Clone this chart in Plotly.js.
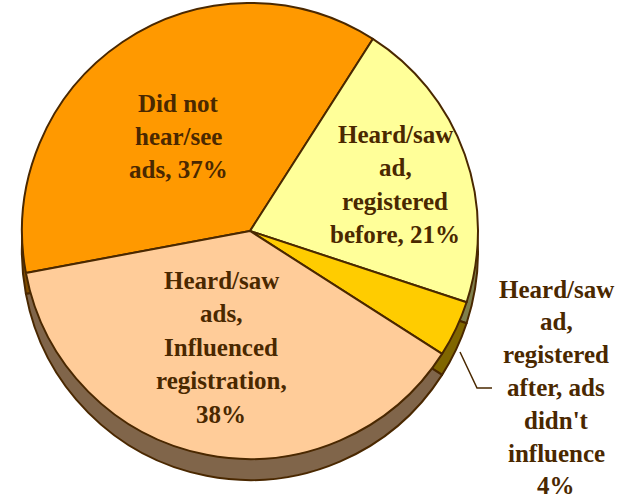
<!DOCTYPE html>
<html>
<head>
<meta charset="utf-8">
<script src="https://cdn.plot.ly/plotly-3.0.1.min.js"></script>
<style>html,body{margin:0;padding:0;background:#fff;}#chart{width:619px;height:502px;}</style>
</head>
<body>
<div id="chart"></div>
<script>
// ---- data ----
const categories = [
  "Did not hear/see ads",
  "Heard/saw ad, registered before",
  "Heard/saw ad, registered after, ads didn't influence",
  "Heard/saw ads, Influenced registration"
];
const values = [37, 21, 4, 38];
const labelLines = [
  ["Did not", "hear/see", "ads, {v}%"],
  ["Heard/saw", "ad,", "registered", "before, {v}%"],
  ["Heard/saw", "ad,", "registered", "after, ads", "didn't", "influence", "{v}%"],
  ["Heard/saw", "ads,", "Influenced", "registration,", "{v}%"]
];

// ---- styles ----
const topColors  = ["#FF9900", "#FFFF99", "#FFCC00", "#FFCC99"];
const sideColors = ["#804C00", "#80804C", "#806600", "#80654A"];
const edgeColor = "#4A2800";
const textColor = "#4A2800";
const labelFont = "'Times New Roman', 'Liberation Serif', 'DejaVu Serif', serif";

const W = 619, H = 502;
const px2x = p => p / W;
const px2y = p => 1 - p / H;

// pie geometry (px)
const cx = 250, cy = 231, r = 228, depth = 21;

function pieTrace(colors, offset) {
  return {
    type: "pie",
    values: values,
    labels: categories,
    sort: false,
    direction: "clockwise",
    rotation: 259.4,
    textinfo: "none",
    hoverinfo: "label+percent",
    showlegend: false,
    marker: { colors: colors, line: { color: edgeColor, width: 2 } },
    domain: {
      x: [px2x(cx - r), px2x(cx + r)],
      y: [px2y(cy + offset + r), px2y(cy + offset - r)]
    }
  };
}

// label placement (first-line baseline, centre x, line gap) in px
const labelPos = [
  { x: 178, y: 111, gap: 33.5 },
  { x: 395, y: 142, gap: 33.5 },
  { x: 556, y: 297, gap: 32.8 },
  { x: 221, y: 288, gap: 33.5 }
];

const annotations = [];
labelLines.forEach((lines, i) => {
  lines.forEach((ln, j) => {
    annotations.push({
      xref: "paper", yref: "paper",
      x: px2x(labelPos[i].x),
      y: px2y(labelPos[i].y + j * labelPos[i].gap - 8),
      xanchor: "center", yanchor: "middle",
      showarrow: false,
      text: "<b>" + ln.replace("{v}", values[i]) + "</b>",
      font: { family: labelFont, size: 25, color: textColor }
    });
  });
});

const leader = [[460, 352], [477, 388], [492, 388]];
const shapes = [{
  type: "path", xref: "paper", yref: "paper",
  path: leader.map((p, k) => (k ? "L" : "M") + px2x(p[0]) + "," + px2y(p[1])).join(" "),
  line: { color: edgeColor, width: 1.5 }
}];

const layout = {
  width: W, height: H,
  margin: { l: 0, r: 0, t: 0, b: 0 },
  paper_bgcolor: "#ffffff",
  showlegend: false,
  font: { family: labelFont },
  annotations: annotations,
  shapes: shapes
};

Plotly.newPlot("chart", [pieTrace(sideColors, depth), pieTrace(topColors, 0)], layout, { displayModeBar: false, staticPlot: true });
</script>
</body>
</html>
